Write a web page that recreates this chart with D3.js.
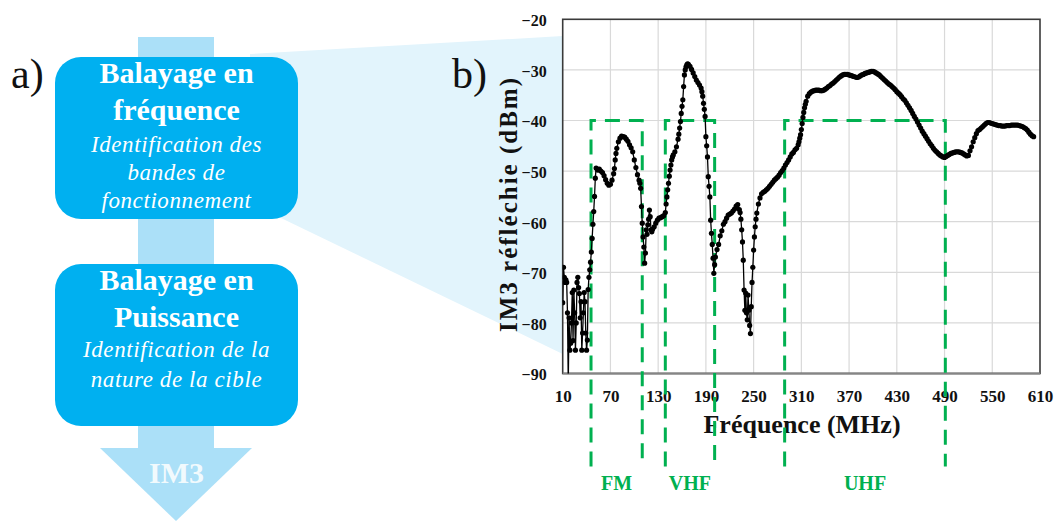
<!DOCTYPE html>
<html><head><meta charset="utf-8">
<script src="https://cdn.jsdelivr.net/npm/d3@7"></script>
<style>html,body{margin:0;padding:0;background:#fff;} svg{display:block;}</style>
</head><body>
<script>
// ---------- DATA ----------
const freqMHz = [
 10,11,12,13,14,15,16,17,18,19,
 20,21,22,23,24,25,26,27,28,29,
 30,31,32,33,34,35,36,37,38,39,
 40,41,42,43,44,45,46,47,48,49,
 50,51,52,
 54,56,58,60,62,64,66,68,70,72,
 74,75,76,77,78,80,82,84,86,88,
 90,92,94,96,98,100,102,104,106,107,
 108,109,110,111,112,113,114,115,116,117,
 118,119,120,121,122,123,125,127,129,131,
 133,135,137,139,140,141,142,143,144,145,
 146,147,148,149,151,153,155,156,157,158,
 159,160,161,162,163,164,165,166,167,168,
 170,172,174,176,178,180,182,184,185,186,
 187,188,189,190,191,192,193,194,195,196,
 197,198,199,200,201,202,204,206,208,210,
 212,214,216,218,220,222,224,226,228,230,
 232,233,234,235,236,237,238,239,240,241,
 242,243,244,245,246,247,248,249,250,251,
 252,253,254,256,258,260,262,264,266,268,
 270,272,274,276,278,280,282,284,286,288,
 290,292,294,296,298,
 300,302,304,306,307,308,309,310,311,312,
 313,314,315,316,318,320,322,324,326,328,
 330,332,334,336,338,340,342,344,346,348,
 350,352,354,356,358,360,362,364,366,368,
 370,372,374,376,378,380,382,384,386,388,
 390,392,394,396,398,400,402,404,406,408,
 410,412,414,416,418,420,422,424,426,428,
 430,432,434,436,438,440,442,444,446,448,
 450,452,454,456,458,460,462,464,466,468,
 470,472,474,476,478,480,482,484,486,488,
 490,492,494,496,498,500,502,504,506,508,
 510,512,514,516,518,520,522,524,526,528,
 530,532,534,536,538,540,542,544,546,548,
 550,552,554,556,558,560,562,564,566,568,
 570,572,574,576,578,580,582,584,586,588,
 590,592,594,596,598,600,602
];
const im3dBm = [
 -76,-69,-71,-72,-71.5,-72,-78,-92,-79,-85.4,
 -84,-80,-74,-83.5,-73.5,-78,-85.4,-80,-72,-71,
 -73,-74.2,-79,-75.8,-85.4,-82,-78,-74,-75.8,-82,
 -85.4,-83.4,-73.4,-71,-69.5,-68,-66,-63.3,-60.5,-58,
 -55,-51.4,-49.4,
 -49.8,-49.6,-50.0,-50.3,-50.9,-51.7,-52.4,-52.8,-52.6,-51.8,
 -50.5,-49.5,-47.8,-46.5,-45.5,-44.2,-43.5,-43.1,-43.2,-43.3,
 -43.7,-44.1,-44.8,-45.4,-46.2,-47.8,-49.3,-50.7,-51.8,-52.4,
 -53.4,-57,-60.3,-63,-65,-68.2,-66.2,-61.6,-62.5,-60.6,
 -59.5,-57.7,-59,-61.6,-62,-61.5,-61,-60.3,-59.7,-59.3,
 -59.2,-59.0,-58.8,-58.2,-56.5,-55.1,-53.7,-52.4,-51,-49.8,
 -48.8,-47.8,-47.2,-46.8,-46.2,-45.2,-43.7,-42.7,-41.5,-40.2,
 -38.6,-37.2,-35.9,-33.3,-31.0,-30.0,-29.4,-29.0,-28.8,-28.9,
 -29.3,-29.9,-30.6,-31.3,-32.0,-32.5,-33.0,-33.6,-34.3,-35.2,
 -36.6,-37.8,-39.2,-43.2,-45,-47.2,-51.1,-53,-55.1,-59.7,
 -62.3,-64.5,-67.2,-70.2,-68.5,-67,-65.5,-64.5,-62.8,-61.8,
 -60.5,-60,-59.3,-58.7,-58.5,-58.3,-57.9,-57.5,-56.9,-56.6,
 -57.6,-58.2,-59.5,-61.6,-64,-67.6,-73.5,-77.5,-74.1,-78,
 -79.4,-74.5,-77.5,-80.5,-82.1,-76.8,-72,-69,-65.6,-63,
 -61,-59.5,-58.3,-56.5,-55.3,-54.5,-54.2,-54.0,-53.7,-53.4,
 -53.0,-52.6,-52.2,-51.8,-51.5,-51.2,-50.8,-50.3,-49.9,-49.4,
 -48.8,-48.3,-47.8,-47.2,-46.6,
 -46.3,-45.8,-45.5,-44.8,-44.2,-43.5,-42.8,-41.8,-40.6,-39.4,
 -38.4,-37.5,-36.8,-36.2,-35.2,-34.7,-34.4,-34.2,-34.1,-34.0,
 -34.0,-34.0,-34.1,-34.1,-34.0,-33.8,-33.6,-33.3,-33.1,-32.8,
 -32.6,-32.3,-32.0,-31.7,-31.4,-31.2,-31.0,-30.9,-30.9,-30.9,
 -31.0,-31.1,-31.2,-31.3,-31.4,-31.5,-31.4,-31.2,-31.0,-30.9,
 -30.7,-30.6,-30.5,-30.4,-30.3,-30.3,-30.4,-30.6,-30.8,-31.0,
 -31.3,-31.6,-31.9,-32.2,-32.5,-32.8,-33.0,-33.3,-33.6,-33.9,
 -34.3,-34.6,-34.9,-35.3,-35.7,-36.0,-36.5,-37.0,-37.5,-38.0,
 -38.6,-39.2,-39.7,-40.3,-40.9,-41.5,-42.1,-42.6,-43.1,-43.6,
 -44.1,-44.6,-45.0,-45.5,-45.9,-46.2,-46.5,-46.8,-47.0,-47.2,
 -47.3,-47.1,-46.9,-46.7,-46.5,-46.4,-46.3,-46.2,-46.2,-46.2,
 -46.3,-46.4,-46.6,-46.8,-47.0,-46.9,-46.0,-45.2,-44.2,-43.4,
 -42.6,-42.0,-41.8,-41.5,-41.2,-40.9,-40.6,-40.4,-40.4,-40.5,
 -40.6,-40.7,-40.8,-40.9,-41.0,-41.0,-41.1,-41.1,-41.1,-41.0,
 -41.0,-41.0,-40.9,-40.9,-40.9,-40.9,-40.9,-41.0,-41.1,-41.2,
 -41.4,-41.6,-41.9,-42.3,-42.7,-43.0,-43.2
];
const xTicks = [10,70,130,190,250,310,370,430,490,550,610];
const yTicks = [-20,-30,-40,-50,-60,-70,-80,-90];
const bandNames = ["FM","VHF","UHF"];
const bandStart = [45.6,139,289];
const bandEnd   = [110,201,491];
const bandTop = -40;
const bandBottom = -108.4;
const box1Title = ["Balayage en","fréquence"];
const box1Sub = ["Identification des","bandes de","fonctionnement"];
const box2Title = ["Balayage en","Puissance"];
const box2Sub = ["Identification de la","nature de la cible"];

if (freqMHz.length !== im3dBm.length) console.error("length mismatch", freqMHz.length, im3dBm.length);
const points = freqMHz.map((f,i)=>({f, v: im3dBm[i]}));

// ---------- SVG ----------
const W = 1055, H = 521;
const svg = d3.select("body").append("svg").attr("width",W).attr("height",H);
svg.append("rect").attr("width",W).attr("height",H).attr("fill","#fff");

const serif = "'Liberation Serif','Times New Roman',serif";
const pl = 562.7, pr = 1040, pt = 19.3, pb = 373.5;
const x = d3.scaleLinear().domain([10,610]).range([pl,pr]);
const y = d3.scaleLinear().domain([-90,-20]).range([pb,pt]);

// zoom wedge
svg.append("polygon")
  .attr("points", [[250,54],[pl,36],[pl,354],[250,203]].map(p=>p.join(",")).join(" "))
  .attr("fill","#e2f4fc");

// left flow arrow
const cx = 176.5;
svg.append("rect").attr("x",138).attr("y",37).attr("width",76).attr("height",412).attr("fill","#abe0f8");
svg.append("polygon").attr("points","100,448 252,448 176,521").attr("fill","#abe0f8");

function box(y0, titles, subs, tY, sY){
  svg.append("rect").attr("x",55).attr("y",y0).attr("width",243).attr("height",162)
    .attr("rx",26).attr("ry",26).attr("fill","#00b0f0");
  titles.forEach((t,i)=>svg.append("text").attr("x",cx).attr("y",tY[i]).attr("text-anchor","middle")
    .attr("font-family",serif).attr("font-weight","bold").attr("font-size",30).attr("fill","#fff").text(t));
  subs.forEach((t,i)=>svg.append("text").attr("x",cx).attr("y",sY[i]).attr("text-anchor","middle")
    .attr("font-family",serif).attr("font-style","italic").attr("font-size",23).attr("letter-spacing",0.6)
    .attr("fill","#fff").text(t));
}
box(57, box1Title, box1Sub, [83,120], [152,180,208]);
box(264, box2Title, box2Sub, [290,327], [357,387]);

svg.append("text").attr("x",cx).attr("y",483).attr("text-anchor","middle")
  .attr("font-family",serif).attr("font-weight","bold").attr("font-size",30)
  .attr("fill","#fff").attr("fill-opacity",0.85).text("IM3");

svg.append("text").attr("x",11).attr("y",88).attr("font-family",serif).attr("font-size",42).attr("fill","#111").text("a)");
svg.append("text").attr("x",452).attr("y",88).attr("font-family",serif).attr("font-size",42).attr("fill","#111").text("b)");

// plot area
svg.append("rect").attr("x",pl).attr("y",pt).attr("width",pr-pl).attr("height",pb-pt).attr("fill","#fff");
const grid = svg.append("g");
grid.selectAll("line.vx").data(xTicks.slice(1,-1)).enter().append("line")
  .attr("x1",d=>x(d)).attr("x2",d=>x(d)).attr("y1",pt).attr("y2",pb)
  .attr("stroke","#d9d9d9").attr("stroke-width",1.2);
grid.selectAll("line.hy").data(yTicks.slice(1,-1)).enter().append("line")
  .attr("y1",d=>y(d)).attr("y2",d=>y(d)).attr("x1",pl).attr("x2",pr)
  .attr("stroke","#d9d9d9").attr("stroke-width",1.2);

// axes (labels via d3 axes)
const yAxis = svg.append("g").attr("transform",`translate(${pl},0)`)
  .call(d3.axisLeft(y).tickValues(yTicks).tickSize(0).tickPadding(16).tickFormat(d3.format("d")));
yAxis.select(".domain").remove();
yAxis.selectAll("text").attr("font-family",serif).attr("font-weight","bold").attr("font-size",16).attr("fill","#111")
  .attr("dy","0.4em");
const xAxis = svg.append("g").attr("transform",`translate(0,${pb})`)
  .call(d3.axisBottom(x).tickValues(xTicks).tickSize(0).tickPadding(16).tickFormat(d3.format("d")));
xAxis.select(".domain").remove();
xAxis.selectAll("text").attr("font-family",serif).attr("font-weight","bold").attr("font-size",17).attr("fill","#111");

// frame
svg.append("rect").attr("x",pl).attr("y",pt).attr("width",pr-pl).attr("height",pb-pt)
  .attr("fill","none").attr("stroke","#3a3a3a").attr("stroke-width",1.6);
svg.append("line").attr("x1",pl).attr("x2",pr).attr("y1",pb).attr("y2",pb).attr("stroke","#858585").attr("stroke-width",2);

// titles
svg.append("text").attr("x",802).attr("y",433).attr("text-anchor","middle")
  .attr("font-family",serif).attr("font-weight","bold").attr("font-size",26).attr("fill","#111").text("Fréquence (MHz)");
svg.append("text").attr("transform","translate(517,205) rotate(-90)").attr("text-anchor","middle")
  .attr("font-family",serif).attr("font-weight","bold").attr("font-size",25).attr("fill","#111")
  .attr("textLength",254).attr("lengthAdjust","spacing").text("IM3 réfléchie (dBm)");

// bands
const green = "#00b050";
bandNames.forEach((n,i)=>{
  const x0 = x(bandStart[i]), x1 = x(bandEnd[i]), yt = y(bandTop), yb = y(bandBottom);
  svg.append("path").attr("d",`M${x0},${yb}L${x0},${yt}L${x1},${yt}L${x1},${yb}`)
    .attr("fill","none").attr("stroke",green).attr("stroke-width",3).attr("stroke-dasharray","15,9");
  svg.append("text").attr("x",(x0+x1)/2).attr("y",490).attr("text-anchor","middle")
    .attr("font-family",serif).attr("font-weight","bold").attr("font-size",20).attr("fill",green).text(n);
});

// data
svg.append("clipPath").attr("id","clip").append("rect").attr("x",pl).attr("y",pt).attr("width",pr-pl).attr("height",pb-pt);
const g = svg.append("g").attr("clip-path","url(#clip)");
g.append("path").datum(points)
  .attr("d", d3.line().x(d=>x(d.f)).y(d=>y(d.v)))
  .attr("fill","none").attr("stroke","#000").attr("stroke-width",1.3);
g.selectAll("circle").data(points).enter().append("circle")
  .attr("cx",d=>x(d.f)).attr("cy",d=>y(d.v)).attr("r",2.6).attr("fill","#000");
</script>
</body></html>
